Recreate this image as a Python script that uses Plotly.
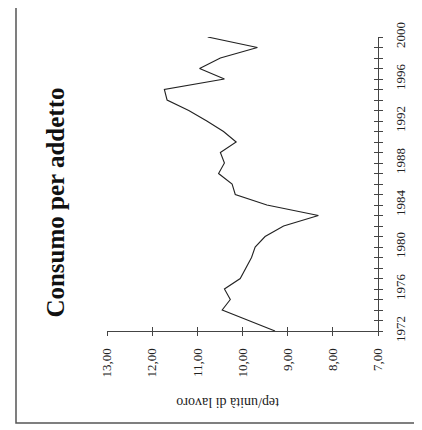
import plotly.graph_objects as go

years = list(range(1972, 2001))
consumo = [9.28, 9.87, 10.45, 10.27, 10.40, 10.05, 9.93, 9.80, 9.72, 9.50,
           9.09, 8.32, 9.46, 10.16, 10.23, 10.53, 10.40, 10.49, 10.14, 10.42,
           10.79, 11.19, 11.67, 11.73, 10.40, 10.95, 10.49, 9.67, 10.77]
value_ticks = [13, 12, 11, 10, 9, 8, 7]
value_labels = ["13,00", "12,00", "11,00", "10,00", "9,00", "8,00", "7,00"]
year_labels = [str(y) if (y - 1972) % 4 == 0 else "" for y in years]

title_text = "Consumo per addetto"
axis_title = "tep/unità di lavoro"

SERIF = "Liberation Serif, Times New Roman, serif"
AX = "#444444"

fig = go.Figure()
fig.add_trace(go.Scatter(x=consumo, y=years, mode="lines",
                         line=dict(color="#222222", width=1.1),
                         hoverinfo="skip", showlegend=False))
fig.add_trace(go.Scatter(x=consumo, y=years, mode="lines", xaxis="x2", yaxis="y2",
                         line=dict(color="rgba(0,0,0,0)", width=0),
                         hoverinfo="skip", showlegend=False))

common_x = dict(range=[13, 7], showgrid=False, zeroline=False, tickvals=value_ticks)
common_y = dict(range=[1972, 2000], showgrid=False, zeroline=False, tickvals=years)

fig.update_layout(
    width=422, height=430,
    margin=dict(l=99, r=52, t=29, b=107),
    paper_bgcolor="white", plot_bgcolor="white",
    font=dict(family=SERIF, color="#222222", size=13),
    xaxis=dict(**common_x, ticktext=value_labels, tickangle=-90,
               showline=True, linecolor=AX, linewidth=1.2,
               ticks="outside", ticklen=4, tickcolor=AX, tickwidth=1,
               ticklabelstandoff=7,
               tickfont=dict(family=SERIF, size=13, color="#222222")),
    xaxis2=dict(**common_x, overlaying="x", anchor="y", side="bottom",
                showline=False, ticks="inside", ticklen=4, tickcolor=AX,
                tickwidth=1, showticklabels=False),
    yaxis=dict(**common_y, ticktext=year_labels, side="right", tickangle=-90,
               showline=True, linecolor=AX, linewidth=1.2,
               ticks="outside", ticklen=4, tickcolor=AX, tickwidth=1,
               ticklabelstandoff=6,
               tickfont=dict(family=SERIF, size=13, color="#222222")),
    yaxis2=dict(**common_y, overlaying="y", anchor="x", side="right",
                showline=False, ticks="inside", ticklen=4, tickcolor=AX,
                tickwidth=1, showticklabels=False),
    annotations=[
        dict(text="<b>" + title_text + "</b>", xref="paper", yref="paper",
             x=-0.19, y=0.435, textangle=-90, showarrow=False,
             xanchor="center", yanchor="middle",
             font=dict(family=SERIF, size=25, color="#111111")),
        dict(text=axis_title, xref="paper", yref="paper",
             x=0.4465, y=-0.245, textangle=180, showarrow=False,
             xanchor="center", yanchor="middle",
             font=dict(family=SERIF, size=14, color="#222222")),
    ],
    shapes=[
        dict(type="rect", xref="paper", yref="paper",
             x0=-0.3358, x1=1.3, y0=-0.3129, y1=1.1224,
             line=dict(color="#555555", width=1.5), layer="below"),
    ],
)

fig.write_html("out.html")
